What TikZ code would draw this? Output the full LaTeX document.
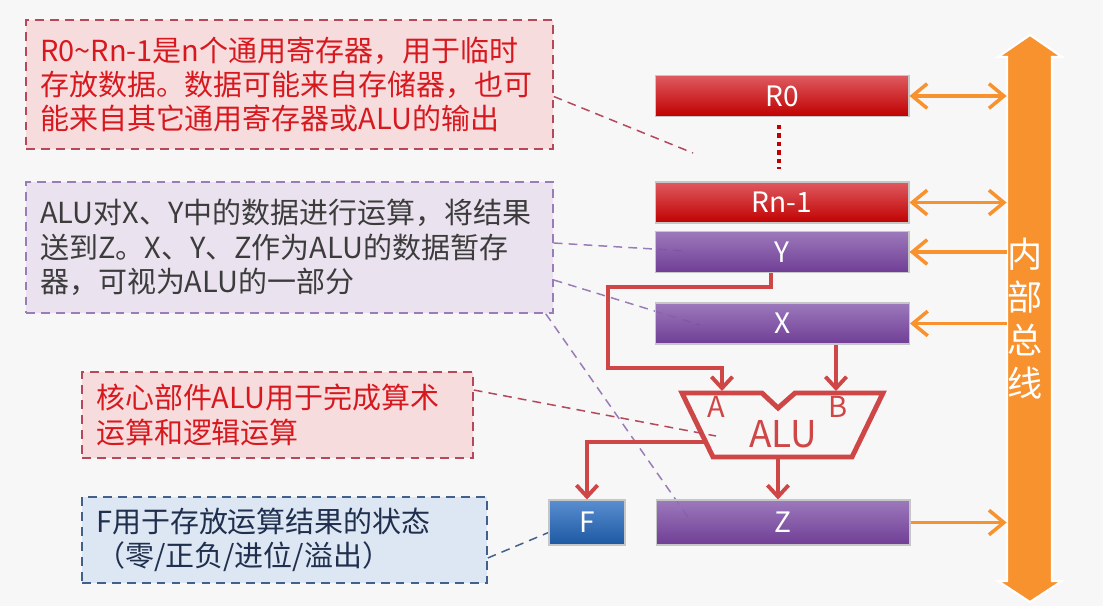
\documentclass[tikz,border=0pt]{standalone}
\usepackage{fontspec}
\setmainfont{Noto Sans CJK SC}
\usetikzlibrary{arrows.meta}
\pgfdeclarelayer{behind}
\pgfsetlayers{behind,main}

\definecolor{bgcol}{HTML}{F7F7F7}
\definecolor{redfill}{HTML}{F7DCDD}
\definecolor{redrule}{HTML}{B5485A}
\definecolor{redink}{HTML}{D7191F}
\definecolor{purfill}{HTML}{EAE2EF}
\definecolor{purrule}{HTML}{9A7CB6}
\definecolor{purink}{HTML}{3C3C3C}
\definecolor{blufill}{HTML}{DDE7F3}
\definecolor{blurule}{HTML}{41618C}
\definecolor{bluink}{HTML}{1F2F4D}
\definecolor{regredtop}{HTML}{DE5A60}
\definecolor{regredbot}{HTML}{C00000}
\definecolor{regpurtop}{HTML}{9670B8}
\definecolor{regpurbot}{HTML}{66308E}
\definecolor{regblutop}{HTML}{5A8ED0}
\definecolor{regblubot}{HTML}{1C58A2}
\definecolor{busorange}{HTML}{F7922E}
\definecolor{linkred}{HTML}{CF4646}

\begin{document}
\begin{tikzpicture}[x=0.02cm, y=-0.02cm,
        note/.style={line width=0.9pt, dash pattern=on 5pt off 3.5pt, align=left,
            inner xsep=0.28cm, inner ysep=2pt, font=\fontsize{16.5}{19.5}\selectfont},
        rednote/.style={note, fill=redfill, draw=redrule, text=redink},
        purnote/.style={note, fill=purfill, draw=purrule, text=purink},
        blunote/.style={note, fill=blufill, draw=blurule, text=bluink},
        reg/.style={draw=gray!45, line width=0.6pt, minimum width=5.08cm, minimum height=0.82cm,
            text=white, font=\fontsize{16}{18}\selectfont},
        redreg/.style={reg, top color=regredtop, bottom color=regredbot},
        purreg/.style={reg, top color=regpurtop, bottom color=regpurbot, fill opacity=0.93, text opacity=1},
        blureg/.style={reg, top color=regblutop, bottom color=regblubot},
        leader/.style={line width=0.85pt, dash pattern=on 5pt off 3.5pt},
        link/.style={draw=linkred, line width=2.2pt, -{Straight Barb[length=6.5pt,width=12pt]}},
        busarrow/.style={draw=busorange, line width=2pt, >={Straight Barb[length=8.5pt,width=14pt]}},
        regdots/.style={draw=regredbot, line width=2.4pt, dash pattern=on 2.4pt off 2.4pt},
        alubody/.style={draw=linkred, line width=2.8pt, line join=miter},
        alutext/.style={text=linkred, font=\fontsize{21}{24}\selectfont},
        pintext/.style={text=linkred, font=\fontsize{16.5}{18}\selectfont, inner sep=0pt},
        bustext/.style={minimum width=0.9cm, minimum height=10.48cm, text width=0.9cm, inner sep=0pt,
            align=left, text=white, font=\fontsize{20}{24.5}\selectfont}]

        \begin{pgfonlayer}{behind}
            \fill[bgcol] (0,0) rectangle (1103,606);
        \end{pgfonlayer}
        \useasboundingbox (0,0) rectangle (1103,606);

        \node[rednote, text width=9.98cm, minimum height=2.58cm] (note1) at (289.5,84.5)
            {R0\textasciitilde Rn-1是n个通用寄存器，用于临时\\存放数据。数据可能来自存储器，也可\\能来自其它通用寄存器或ALU的输出};
        \node[purnote, text width=9.98cm, minimum height=2.62cm] (note2) at (289.5,247.5)
            {ALU对X、Y中的数据进行运算，将结果\\送到Z。X、Y、Z作为ALU的数据暂存\\器，可视为ALU的一部分};
        \node[rednote, text width=7.26cm, minimum height=1.72cm] (note3) at (277.5,415)
            {核心部件ALU用于完成算术\\运算和逻辑运算};
        \node[blunote, text width=7.54cm, minimum height=1.72cm] (note4) at (284.5,540)
            {F用于存放运算结果的状态\\（零/正负/进位/溢出）};

        \node[redreg] (R0) at (782,96) {R0};
        \node[redreg] (Rn) at (782,202.5) {Rn-1};
        \node[purreg] (Y) at (782,252) {Y};
        \node[purreg] (X) at (782.5,323.5) {X};
        \node[purreg, minimum height=0.9cm] (Z) at (783,522.5) {Z};
        \node[blureg, minimum width=1.52cm, minimum height=0.9cm] (F) at (587,522.5) {F};

        \coordinate (r0gap) at (693,153);
        \coordinate (aluhint) at (716,436);
        \coordinate (aluA) at (722,391);
        \coordinate (aluB) at (836,391);
        \coordinate (aluL) at (706,442);
        \coordinate (aluO) at (778,457);

        \begin{pgfonlayer}{behind}
            \draw[leader, redrule] ([yshift=-0.24cm]note1.east) -- (r0gap);
            \draw[leader, purrule] ([yshift=0.09cm]note2.east) -- (687,251);
            \draw[leader, purrule] ([yshift=-0.65cm]note2.east) -- (700,325);
            \draw[leader, purrule] ([xshift=-0.16cm]note2.south east) -- (690,520);
            \draw[leader, blurule] ([yshift=-0.36cm]note4.east) -- ([yshift=-0.2cm]F.west);
        \end{pgfonlayer}

        \draw[regdots] ([xshift=-0.06cm, yshift=-0.16cm]R0.south) -- ([xshift=-0.06cm, yshift=0.24cm]Rn.north);

        \draw[alubody] (682,393) -- (762,393) -- (778,408) -- (795,393) -- (883,393) -- (852,457) -- (713,457) -- cycle;
        \node[alutext] (alu) at (783,434) {ALU};
        \node[pintext] (pinA) at (716,407) {A};
        \node[pintext] (pinB) at (838,407) {B};

        \draw[link] ([xshift=-0.22cm]Y.south) |- (608,287) |- (722,368) -- (aluA);
        \draw[link] (X.south -| aluB) -- (aluB);
        \draw[link] (aluL) -| (F.north);
        \draw[link] (aluO) -- (aluO |- Z.north);

        \draw[leader, redrule] ([yshift=0.5cm]note3.east) -- (aluhint);

        \filldraw[fill=busorange, draw=white, line width=1.2pt] (1007,57) -- (998,57) -- (1030,35) -- (1062,57) -- (1052,57)
            -- (1052,581) -- (1062,581) -- (1030,602) -- (998,581) -- (1007,581) -- cycle;
        \node[bustext] (bus) at (1029.5,319) {内\\部\\总\\线};

        \draw[busarrow, <->] (R0.east) -- (R0.east -| bus.west);
        \draw[busarrow, <->] (Rn.east) -- (Rn.east -| bus.west);
        \draw[busarrow, ->] (Y.east -| bus.west) -- (Y.east);
        \draw[busarrow, ->] (X.east -| bus.west) -- (X.east);
        \draw[busarrow, ->] (Z.east) -- (Z.east -| bus.west);
    \end{tikzpicture}
\end{document}
